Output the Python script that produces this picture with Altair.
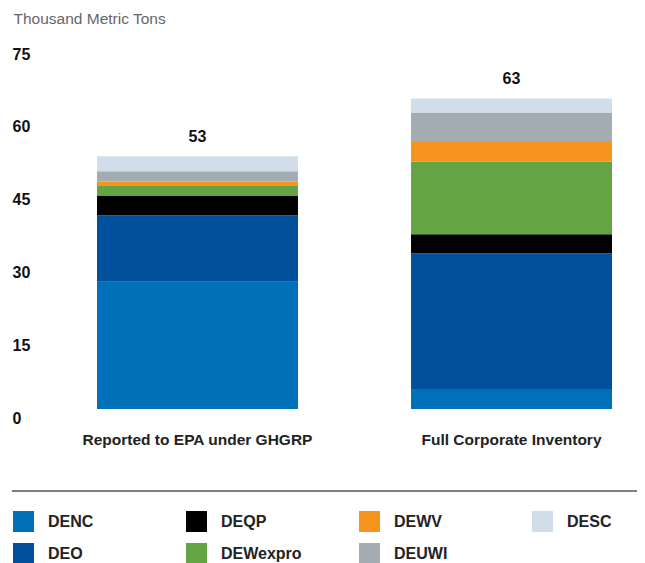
import altair as alt
import pandas as pd

categories = ["Reported to EPA under GHGRP", "Full Corporate Inventory"]
series = ["DENC", "DEO", "DEQP", "DEWexpro", "DEWV", "DEUWI", "DESC"]
reported = [26.2, 13.7, 4.1, 2.1, 0.8, 2.1, 3.1]
full = [4.1, 28.0, 3.9, 15.0, 4.0, 6.1, 2.9]
total_labels = ["53", "63"]
series_colors = ["#0070b9", "#00509b", "#000000", "#64a543", "#f7941d", "#a2acb1", "#d1dde9"]
y_ticks = [0, 15, 30, 45, 60, 75]

rows = []
for cat, vals in zip(categories, [reported, full]):
    for i, (s, v) in enumerate(zip(series, vals)):
        rows.append({"category": cat, "series": s, "value": v, "stack": i})
df = pd.DataFrame(rows)

tot_df = pd.DataFrame({
    "category": categories,
    "total": [sum(reported), sum(full)],
    "label": total_labels,
})

yscale = alt.Scale(domain=[0, 75], nice=False)

bars = alt.Chart(df).mark_bar().encode(
    x=alt.X("category:N", sort=categories,
            scale=alt.Scale(paddingInner=0.36, paddingOuter=0),
            axis=alt.Axis(title=None, labelAngle=0, labelFontSize=15.5, labelFontWeight="bold",
                          labelColor="#222222", domain=False, ticks=False, tickSize=0,
                          labelPadding=23, labelBaseline="top", labelLimit=400)),
    y=alt.Y("value:Q", stack="zero", scale=yscale,
            axis=alt.Axis(values=y_ticks, title="Thousand Metric Tons", titleAngle=0,
                          titleAlign="left", titleBaseline="alphabetic", titleX=-84, titleY=-22,
                          titleFontWeight="normal", titleFontSize=15.5, titleColor="#666666",
                          labelAlign="left", labelPadding=85, tickSize=0, ticks=False,
                          domain=False, grid=False, labelFontSize=16, labelFontWeight="bold",
                          labelColor="#111111", labelOffset=9, labelBaseline="middle",
                          labelFlush=False)),
    color=alt.Color("series:N", scale=alt.Scale(domain=series, range=series_colors),
                    legend=alt.Legend(title=None, orient="none", legendX=-84, legendY=466,
                                      columns=4, gridAlign="all", columnPadding=57, rowPadding=11,
                                      symbolType="square", symbolSize=441,
                                      symbolStrokeWidth=0, symbolOpacity=1,
                                      labelFontSize=16, labelFontWeight="bold",
                                      labelColor="#222222", labelOffset=14, padding=0,
                                      labelLimit=200)),
    order=alt.Order("stack:Q", sort="ascending"),
)

totals = alt.Chart(tot_df).mark_text(dy=-14, fontSize=16, fontWeight="bold", color="#111111",
                                     baseline="alphabetic").encode(
    x=alt.X("category:N", sort=categories, title=None),
    y=alt.Y("total:Q", title="Thousand Metric Tons", scale=yscale),
    text="label:N",
)

rule = alt.Chart(pd.DataFrame({"a": [0]})).mark_rule(color="#7f7f7f", strokeWidth=2).encode(
    x=alt.value(-85), x2=alt.value(540), y=alt.value(446)
)

chart = alt.layer(bars, totals, rule).properties(
    width=515, height=364,
    autosize=alt.AutoSizeParams(type="none"),
    padding={"left": 89, "top": 37, "right": 25, "bottom": 154},
).configure(font="Liberation Sans").configure_view(stroke=None)

chart.save("out.html", embed_options={"renderer": "svg", "actions": False})
